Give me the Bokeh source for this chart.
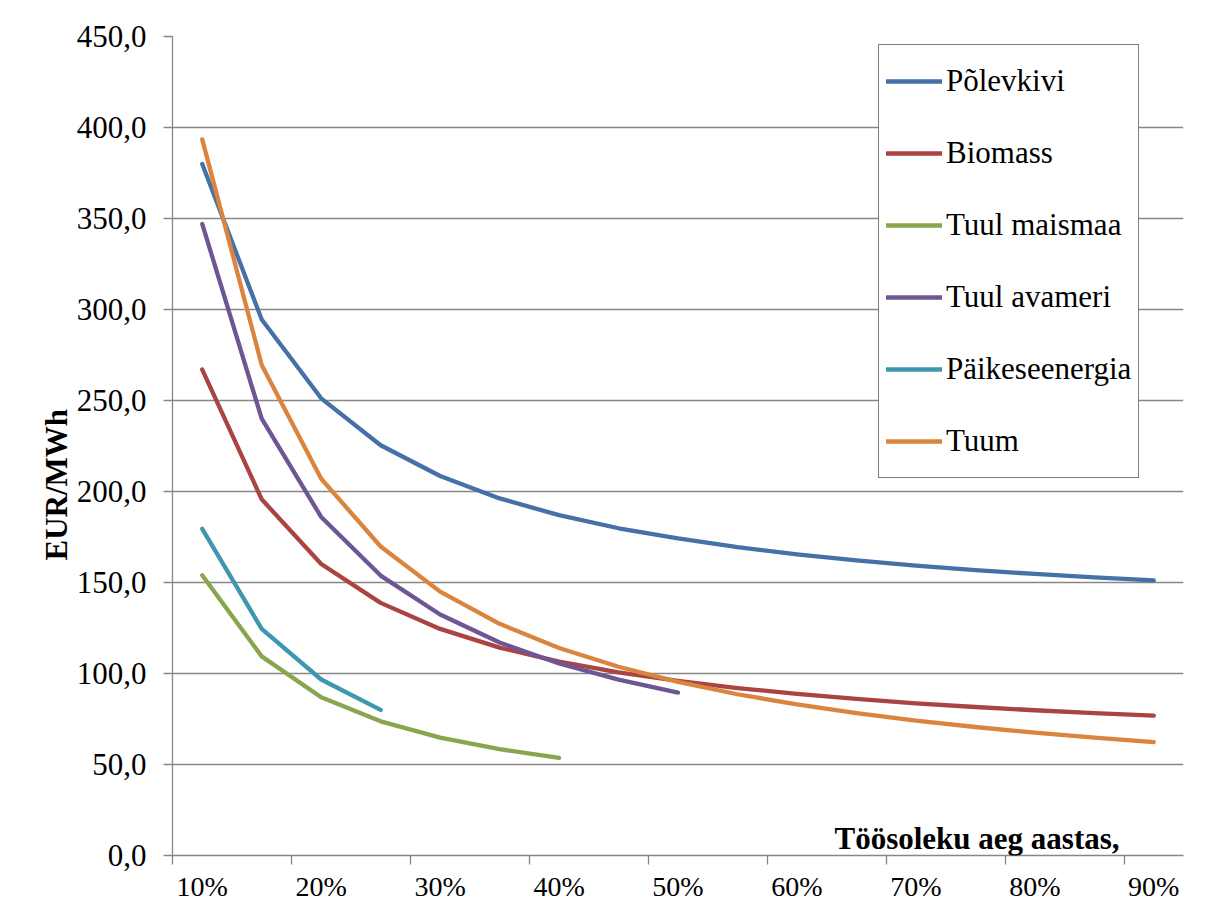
import math
from bokeh.plotting import figure
from bokeh.models import (FixedTicker, Label, ColumnDataSource, Range1d, Title,
                          LinearAxis)
from bokeh.embed import file_html
from bokeh.resources import INLINE

# ---------------- data ----------------
categories = ["10%", "15%", "20%", "25%", "30%", "35%", "40%", "45%", "50%",
              "55%", "60%", "65%", "70%", "75%", "80%", "85%", "90%"]

polevkivi = [380.0, 294.5, 251.2, 225.4, 208.5, 196.2, 187.0, 179.8, 174.2,
             169.4, 165.5, 162.2, 159.3, 156.8, 154.7, 152.8, 151.2]
biomass = [267.0, 195.7, 160.2, 138.8, 124.5, 114.2, 106.5, 100.6, 95.9,
           92.0, 88.8, 86.0, 83.6, 81.6, 79.8, 78.2, 76.9]
tuul_maismaa = [154.0, 109.4, 86.9, 73.7, 64.8, 58.4, 53.6]
tuul_avameri = [347.0, 240.0, 186.0, 153.8, 132.4, 117.0, 105.5, 96.6, 89.5]
paikeseenergia = [179.5, 124.5, 96.7, 80.0]
tuum = [393.5, 269.5, 207.0, 169.8, 145.0, 127.3, 114.0, 103.7, 95.4,
        88.6, 83.0, 78.2, 74.1, 70.6, 67.5, 64.8, 62.3]

series_names = ["Põlevkivi", "Biomass", "Tuul maismaa", "Tuul avameri",
                "Päikeseenergia", "Tuum"]
series_values = [polevkivi, biomass, tuul_maismaa, tuul_avameri,
                 paikeseenergia, tuum]
series_colors = ["#4571A8", "#AA4443", "#89A54E", "#6E5594", "#3F97AF", "#DB843D"]

y_ticks = [0, 50, 100, 150, 200, 250, 300, 350, 400, 450]
y_tick_labels = ["0,0", "50,0", "100,0", "150,0", "200,0", "250,0",
                 "300,0", "350,0", "400,0", "450,0"]
x_tick_labels = ["10%", "20%", "30%", "40%", "50%", "60%", "70%", "80%", "90%"]

y_title = "EUR/MWh"
x_title = "Töösoleku aeg aastas,"

FONT = "'Liberation Serif', 'Times New Roman', serif"
GRAY = "#878787"

# ---------------- figure ----------------
n_cat = len(categories)
p = figure(frame_width=1011, frame_height=819,
           min_border_left=172, min_border_right=10,
           min_border_top=36, min_border_bottom=47,
           x_range=Range1d(0, n_cat), y_range=Range1d(y_ticks[0], y_ticks[-1]),
           output_backend="svg", toolbar_location=None)
p.outline_line_color = None
p.background_fill_color = "white"
p.border_fill_color = "white"

for name, vals, col in zip(series_names, series_values, series_colors):
    src = ColumnDataSource(dict(x=[i + 0.5 for i in range(len(vals))], y=vals))
    p.line("x", "y", source=src, line_color=col, line_width=4.3,
           line_cap="round", line_join="round", legend_label=name)

# x axis: labels every second category, ticks at pair boundaries
label_idx = [categories.index(t) for t in x_tick_labels]
xa = p.xaxis[0]
xa.ticker = FixedTicker(ticks=[i + 0.5 for i in label_idx],
                        minor_ticks=list(range(0, n_cat, 2)))
xa.major_label_overrides = {i + 0.5: t for i, t in zip(label_idx, x_tick_labels)}
xa.major_tick_line_color = None
xa.minor_tick_line_color = GRAY
xa.minor_tick_line_width = 1.3
xa.minor_tick_out = 9
xa.minor_tick_in = 0
xa.axis_line_color = GRAY
xa.axis_line_width = 1.3
xa.major_label_text_font = FONT
xa.major_label_text_font_size = "28px"
xa.major_label_text_color = "black"
xa.major_label_standoff = 6

ya = p.yaxis[0]
ya.ticker = FixedTicker(ticks=y_ticks, minor_ticks=[])
ya.major_label_overrides = {v: t for v, t in zip(y_ticks, y_tick_labels)}
ya.major_tick_line_color = GRAY
ya.major_tick_line_width = 1.3
ya.major_tick_out = 9
ya.major_tick_in = 0
ya.minor_tick_line_color = None
ya.axis_line_color = GRAY
ya.axis_line_width = 1.3
ya.major_label_text_font = FONT
ya.major_label_text_font_size = "31px"
ya.major_label_text_color = "black"
ya.major_label_standoff = 17

p.xgrid.visible = False
p.ygrid.grid_line_color = GRAY
p.ygrid.grid_line_width = 1.3
p.ygrid.ticker = FixedTicker(ticks=y_ticks)

# empty spacer between the tick labels and the y title
spacer = LinearAxis(ticker=FixedTicker(ticks=[], minor_ticks=[]),
                    major_tick_out=34, major_tick_in=0, major_label_standoff=0,
                    axis_line_color=None, major_tick_line_color=None,
                    minor_tick_line_color=None)
p.add_layout(spacer, "left")

# y title, placed low like the original
yt = Title(text=y_title, align="left", offset=295, vertical_align="bottom",
           standoff=0, text_font=FONT, text_font_style="bold",
           text_font_size="31px", text_color="black")
p.add_layout(yt, "left")

# x title inside the plot area
p.add_layout(Label(x=662, y=17, x_units="screen", y_units="screen",
                   text=x_title, text_align="left", text_baseline="alphabetic",
                   text_font=FONT, text_font_style="bold",
                   text_font_size="31px", text_color="black"))

# legend
lg = p.legend[0]
lg.location = (706, 377)
lg.border_line_color = "black"
lg.border_line_width = 1.6
lg.background_fill_color = "white"
lg.background_fill_alpha = 1.0
lg.padding = 7
lg.spacing = 14
lg.glyph_width = 56
lg.glyph_height = 58
lg.label_standoff = 4
lg.margin = 0
lg.label_text_font = FONT
lg.label_text_font_size = "31px"
lg.label_text_color = "black"
lg.label_text_baseline = "middle"

open("out.html", "w").write(file_html(p, INLINE))
